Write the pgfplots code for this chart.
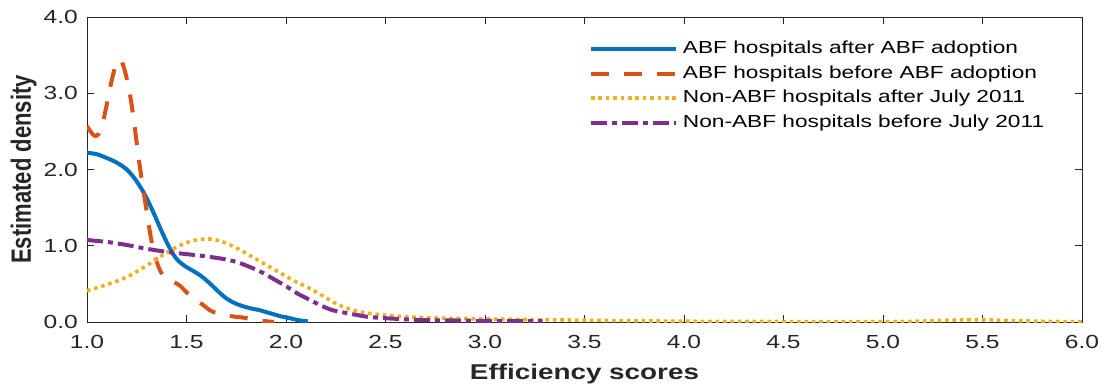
\documentclass[border=0pt]{standalone}
\usepackage{fontspec}
\setmainfont{Liberation Sans}[FakeStretch=1.3]
\newfontfamily\ylabfont{Liberation Sans}[FakeStretch=0.79]
\usepackage{pgfplots}
\pgfplotsset{compat=1.18}
\definecolor{mblue}{rgb}{0,0.447,0.741}
\definecolor{morange}{rgb}{0.85,0.325,0.098}
\definecolor{myellow}{rgb}{0.929,0.694,0.125}
\definecolor{mpurple}{rgb}{0.494,0.184,0.556}
\definecolor{axgray}{rgb}{0.15,0.15,0.15}
\begin{document}
\begin{tikzpicture}
\begin{axis}[
  scale only axis, width=995bp, height=305bp,
  xmin=1, xmax=6, ymin=0, ymax=4,
  xtick={1,1.5,2,2.5,3,3.5,4,4.5,5,5.5,6},
  ytick={0,1,2,3,4},
  tick align=inside,
  major tick length=7bp,
  axis line style={axgray, line width=0.8bp},
  every tick/.style={axgray, line width=0.8bp},
  /pgf/number format/assume math mode=true,
  /pgf/number format/.cd, fixed, fixed zerofill, precision=1, /pgfplots/.cd,
  tick label style={font=\fontsize{19}{19}\selectfont, text=axgray, inner sep=0pt},
  xticklabel style={anchor=north, yshift=-13bp},
  yticklabel style={anchor=east, xshift=-9bp},
  xlabel={Efficiency scores},
  ylabel={Estimated density},
  xlabel style={font=\fontsize{21.5}{21.5}\selectfont\bfseries, text=axgray, at={(axis description cs:0.5,-0.190)}, anchor=base, inner sep=0pt},
  ylabel style={font=\ylabfont\fontsize{28}{28}\selectfont\bfseries, text=axgray, at={(axis description cs:-0.0563,0.5)}, anchor=base, inner sep=0pt, rotate=0},
  legend image code/.code={\draw[#1] (0bp,0bp) -- (85bp,0bp);},
  legend style={draw=none, fill=none, at={(axis description cs:0.5045,0.921)}, anchor=north west,
    inner sep=0pt, outer sep=0pt, row sep=8.5bp,
    font=\fontsize{17.5}{17.5}\selectfont, text=black,
    nodes={inner sep=0pt, text height=12.5bp, text depth=3.5bp},
    /tikz/every odd column/.style={column sep=5bp}},
  legend cell align=left,
  clip=true,
]
\addplot[mblue, line width=4bp, smooth] coordinates {
(1.00,2.22) (1.05,2.20) (1.10,2.15) (1.15,2.09) (1.20,2.00) (1.24,1.88) (1.28,1.72)
(1.31,1.57) (1.34,1.40) (1.37,1.22) (1.40,1.05) (1.43,0.90) (1.46,0.80) (1.50,0.72)
(1.54,0.66) (1.58,0.59) (1.62,0.50) (1.66,0.40) (1.70,0.31) (1.74,0.25) (1.78,0.21)
(1.82,0.18) (1.86,0.16) (1.90,0.13) (1.94,0.10) (1.98,0.07) (2.02,0.05) (2.06,0.025) (2.11,0.008)
};
\addlegendentry{ABF hospitals after ABF adoption}
\addplot[morange, line width=4bp, dash pattern=on 18bp off 15bp, smooth] coordinates {
(1.00,2.57) (1.02,2.49) (1.04,2.44) (1.06,2.47) (1.08,2.62) (1.10,2.86) (1.12,3.12)
(1.14,3.33) (1.16,3.44) (1.18,3.38) (1.20,3.19) (1.22,2.92) (1.24,2.55) (1.26,2.14)
(1.28,1.78) (1.30,1.45) (1.32,1.12) (1.34,0.88) (1.36,0.72) (1.38,0.62) (1.41,0.56)
(1.44,0.52) (1.47,0.47) (1.50,0.39) (1.54,0.30) (1.58,0.23) (1.62,0.15) (1.66,0.11)
(1.70,0.09) (1.74,0.07) (1.78,0.06) (1.82,0.04) (1.86,0.025) (1.90,0.01) (1.94,0.0)
};
\addlegendentry{ABF hospitals before ABF adoption}
\addplot[myellow, line width=3.6bp, dash pattern=on 3.6bp off 3.8bp, smooth] coordinates {
(1.00,0.41) (1.10,0.49) (1.20,0.59) (1.30,0.74) (1.40,0.91) (1.48,1.02) (1.54,1.07)
(1.60,1.09) (1.66,1.07) (1.72,1.01) (1.78,0.93) (1.84,0.84) (1.90,0.75) (1.96,0.66)
(2.02,0.57) (2.08,0.49) (2.14,0.41) (2.20,0.32) (2.26,0.23) (2.32,0.17) (2.40,0.12)
(2.50,0.09) (2.60,0.07) (2.80,0.05) (3.00,0.04) (3.30,0.03) (3.60,0.02) (4.00,0.01)
(4.50,0.006) (5.00,0.005) (5.20,0.012) (5.35,0.025) (5.50,0.03) (5.65,0.018) (5.85,0.007) (6.00,0.004)
};
\addlegendentry{Non-ABF hospitals after July 2011}
\addplot[mpurple, line width=4bp, dash pattern=on 16bp off 5bp on 5bp off 5bp, smooth] coordinates {
(1.00,1.075) (1.10,1.05) (1.20,1.01) (1.30,0.96) (1.40,0.92) (1.50,0.89) (1.60,0.86)
(1.70,0.82) (1.76,0.78) (1.82,0.72) (1.88,0.65) (1.94,0.56) (2.00,0.47) (2.06,0.37)
(2.12,0.29) (2.18,0.21) (2.24,0.15) (2.30,0.12) (2.36,0.09) (2.42,0.065) (2.50,0.05)
(2.60,0.035) (2.70,0.025) (2.85,0.02) (3.00,0.015) (3.15,0.012) (3.29,0.01)
};
\addlegendentry{Non-ABF hospitals before July 2011}
\end{axis}
\pgfresetboundingbox
\path[use as bounding box] ([shift={(-87bp,-63bp)}]current axis.south west) rectangle ([shift={(25bp,17bp)}]current axis.north east);
\end{tikzpicture}
\end{document}
